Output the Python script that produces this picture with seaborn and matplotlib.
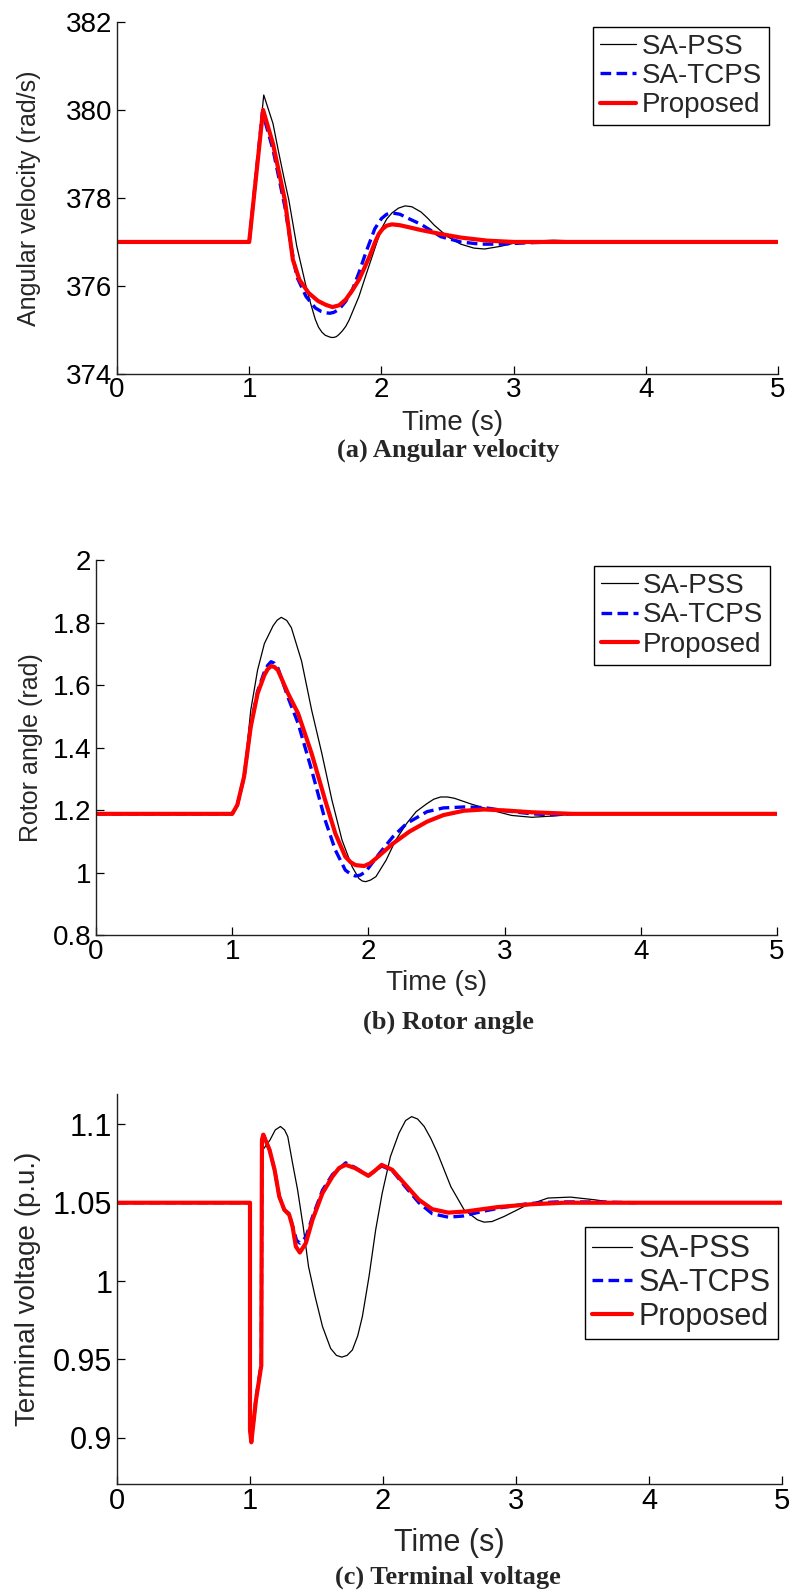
import numpy as np
import pandas as pd
import matplotlib
matplotlib.use('Agg')
import matplotlib.pyplot as plt
import seaborn as sns

# ---- (a) angular velocity (rad/s) ----
t_a_pss = [0, 1.0, 1.11, 1.18, 1.22, 1.26, 1.30, 1.36, 1.43, 1.465, 1.50, 1.525, 1.55, 1.575, 1.60,
           1.62, 1.64, 1.66, 1.68, 1.705, 1.73, 1.755, 1.78, 1.83, 1.88, 1.93, 2.0, 2.04, 2.08, 2.13,
           2.18, 2.23, 2.3, 2.35, 2.4, 2.5, 2.6, 2.7, 2.78, 2.9, 3.0, 3.15, 3.3, 3.5]
w_a_pss = [377, 377, 380.34, 379.69, 379.08, 378.5, 377.95, 376.9, 375.99, 375.6, 375.24, 375.06,
           374.95, 374.88, 374.85, 374.83, 374.83, 374.85, 374.9, 374.98, 375.08, 375.22, 375.4,
           375.76, 376.22, 376.67, 377.3, 377.52, 377.66, 377.77, 377.82, 377.8, 377.68, 377.54,
           377.38, 377.12, 376.95, 376.86, 376.84, 376.9, 376.97, 377.02, 377.04, 377.02]
t_a_tcps = [0, 1.0, 1.1, 1.18, 1.27, 1.32, 1.36, 1.43, 1.50, 1.545, 1.58, 1.61, 1.64, 1.68, 1.73, 1.78,
            1.83, 1.88, 1.95, 2.0, 2.04, 2.08, 2.14, 2.2, 2.3, 2.45, 2.6, 2.75, 2.9, 3.1, 3.3, 3.5]
w_a_tcps = [377, 377, 379.95, 379.1, 377.8, 376.85, 376.21, 375.76, 375.5, 375.42, 375.39, 375.38,
            375.4, 375.47, 375.65, 375.91, 376.3, 376.74, 377.3, 377.53, 377.63, 377.66, 377.63,
            377.54, 377.4, 377.12, 377.0, 376.95, 376.95, 376.98, 377.0, 377.0]
t_a_prop = [0, 1.0, 1.105, 1.18, 1.27, 1.33, 1.38, 1.45, 1.52, 1.58, 1.63, 1.68, 1.73, 1.78, 1.83, 1.87,
            1.91, 1.95, 1.98, 2.01, 2.04, 2.08, 2.14, 2.2, 2.3, 2.45, 2.6, 2.8, 3.0, 5.0]
w_a_prop = [377, 377, 380.0, 379.23, 377.95, 376.6, 376.14, 375.84, 375.66, 375.57, 375.52, 375.56,
            375.69, 375.9, 376.14, 376.4, 376.67, 376.98, 377.18, 377.3, 377.37, 377.4, 377.38,
            377.34, 377.27, 377.18, 377.1, 377.03, 377.0, 377.0]

# ---- (b) rotor angle (rad) ----
t_b_pss = [0, 1.0, 1.037, 1.087, 1.136, 1.186, 1.236, 1.3, 1.33, 1.36, 1.40, 1.434, 1.509, 1.583,
           1.658, 1.732, 1.806, 1.88, 1.93, 1.955, 1.98, 2.015, 2.055, 2.13, 2.2, 2.28, 2.35, 2.43,
           2.48, 2.53, 2.58, 2.63, 2.75, 2.9, 3.05, 3.2, 3.35, 3.5]
d_b_pss = [1.188, 1.188, 1.216, 1.31, 1.52, 1.648, 1.733, 1.79, 1.808, 1.817, 1.807, 1.784, 1.677,
           1.52, 1.381, 1.232, 1.104, 1.019, 0.981, 0.973, 0.971, 0.976, 0.987, 1.04, 1.104, 1.157,
           1.195, 1.221, 1.235, 1.242, 1.242, 1.238, 1.22, 1.2, 1.183, 1.177, 1.181, 1.187]
t_b_tcps = [0, 1.0, 1.037, 1.087, 1.136, 1.186, 1.236, 1.26, 1.285, 1.31, 1.335, 1.41, 1.484, 1.583,
            1.682, 1.757, 1.83, 1.87, 1.905, 1.94, 1.98, 2.08, 2.18, 2.28, 2.43, 2.55, 2.7, 2.85,
            3.0, 3.2, 3.35, 3.5]
d_b_tcps = [1.188, 1.188, 1.216, 1.307, 1.47, 1.58, 1.643, 1.663, 1.675, 1.67, 1.655, 1.56, 1.477,
            1.328, 1.168, 1.072, 1.008, 0.995, 0.989, 0.992, 1.003, 1.061, 1.115, 1.157, 1.195, 1.207,
            1.21, 1.208, 1.198, 1.188, 1.185, 1.188]
t_b_prop = [0, 1.0, 1.037, 1.087, 1.136, 1.186, 1.236, 1.26, 1.285, 1.31, 1.335, 1.41, 1.484, 1.583,
            1.682, 1.757, 1.83, 1.87, 1.905, 1.968, 2.01, 2.055, 2.18, 2.30, 2.43, 2.55, 2.7, 2.85,
            3.0, 3.2, 3.5, 5.0]
d_b_prop = [1.188, 1.188, 1.216, 1.307, 1.467, 1.573, 1.632, 1.651, 1.661, 1.658, 1.648, 1.573, 1.509,
            1.381, 1.232, 1.125, 1.051, 1.033, 1.024, 1.021, 1.029, 1.045, 1.093, 1.131, 1.163, 1.184,
            1.198, 1.202, 1.199, 1.193, 1.188, 1.188]

# ---- (c) terminal voltage (p.u.) ----
t_c_pss = [0, 1.0, 1.0, 1.01, 1.045, 1.085, 1.09, 1.15, 1.19, 1.229, 1.26, 1.284, 1.32, 1.358, 1.4,
           1.44, 1.49, 1.545, 1.606, 1.65, 1.69, 1.73, 1.77, 1.81, 1.845, 1.895, 1.945, 1.994, 2.056,
           2.12, 2.17, 2.215, 2.26, 2.31, 2.36, 2.41, 2.51, 2.61, 2.71, 2.76, 2.82, 2.91, 3.06, 3.24,
           3.41, 3.59, 3.75]
v_c_pss = [1.05, 1.05, 0.905, 0.898, 0.925, 0.946, 1.083, 1.09, 1.0965, 1.0987, 1.0965, 1.0923, 1.0753,
           1.0582, 1.0348, 1.0093, 0.99, 0.971, 0.957, 0.9525, 0.9514, 0.9525, 0.956, 0.965, 0.9773,
           1.0029, 1.0327, 1.0561, 1.0795, 1.0944, 1.1025, 1.105, 1.1035, 1.0987, 1.091, 1.0817,
           1.0603, 1.0455, 1.0391, 1.0376, 1.038, 1.0412, 1.0476, 1.053, 1.0536, 1.0519, 1.05]
t_c_tcps = [0, 1.0, 1.0, 1.01, 1.045, 1.085, 1.09, 1.1, 1.147, 1.185, 1.22, 1.258, 1.295, 1.32, 1.35,
            1.375, 1.42, 1.47, 1.545, 1.62, 1.72, 1.79, 1.89, 1.99, 2.07, 2.17, 2.27, 2.37, 2.49, 2.6,
            2.75, 2.9, 3.1, 3.3, 3.6, 3.9]
v_c_tcps = [1.05, 1.05, 0.905, 0.898, 0.925, 0.947, 1.09, 1.0935, 1.0838, 1.071, 1.054, 1.0455, 1.043,
            1.035, 1.026, 1.0242, 1.028, 1.041, 1.058, 1.068, 1.0755, 1.0725, 1.0672, 1.0735, 1.0705,
            1.06, 1.05, 1.043, 1.0408, 1.0415, 1.0445, 1.047, 1.0495, 1.0505, 1.0505, 1.05]
t_c_prop = [0, 1.0, 1.0, 1.01, 1.045, 1.085, 1.09, 1.1, 1.147, 1.185, 1.22, 1.258, 1.295, 1.32, 1.345,
            1.375, 1.42, 1.47, 1.545, 1.62, 1.67, 1.72, 1.79, 1.89, 1.94, 1.99, 2.07, 2.17, 2.27, 2.37,
            2.49, 2.62, 2.86, 3.11, 3.36, 5.0]
v_c_prop = [1.05, 1.05, 0.905, 0.897, 0.924, 0.946, 1.09, 1.0935, 1.0838, 1.071, 1.054, 1.0455, 1.0423,
            1.0348, 1.022, 1.0182, 1.0242, 1.0391, 1.0561, 1.0667, 1.0722, 1.0742, 1.0721, 1.0672,
            1.0705, 1.0742, 1.071, 1.0614, 1.0519, 1.0459, 1.0437, 1.0444, 1.0472, 1.049, 1.05, 1.05]

series_names = ['SA-PSS', 'SA-TCPS', 'Proposed']
x_ticks = [0, 1, 2, 3, 4, 5]
x_ticklabels = ['0', '1', '2', '3', '4', '5']
a_yticks = [374, 376, 378, 380, 382]
a_yticklabels = ['374', '376', '378', '380', '382']
b_yticks = [0.8, 1.0, 1.2, 1.4, 1.6, 1.8, 2.0]
b_yticklabels = ['0.8', '1', '1.2', '1.4', '1.6', '1.8', '2']
c_yticks = [0.9, 0.95, 1.0, 1.05, 1.1]
c_yticklabels = ['0.9', '0.95', '1', '1.05', '1.1']

sns.set_style('ticks')
plt.rcParams['font.family'] = ['Liberation Sans', 'DejaVu Sans']
plt.rcParams['xtick.direction'] = 'in'
plt.rcParams['ytick.direction'] = 'in'

styles = {
    'SA-PSS': dict(color='black', lw=0.9, linestyle='-'),
    'SA-TCPS': dict(color='#0000ff', lw=2.4, linestyle=(0, (3.2, 1.6))),
    'Proposed': dict(color='#ff0000', lw=3.0, linestyle='-'),
}

fig = plt.figure(figsize=(7.91, 15.9), dpi=100)

panels = [
    dict(rect=[0.1479, 0.7648, 0.8357, 0.2214], fs=20, xfs=20,
         data=[(t_a_pss, w_a_pss), (t_a_tcps, w_a_tcps), (t_a_prop, w_a_prop)],
         ylim=(374, 382), yticks=a_yticks, ylabels=a_yticklabels,
         ylabel='Angular velocity (rad/s)', ylab_x=-0.115, xlab_y=-0.102, xlab_x=0.507,
         leg=dict(loc='upper right', bbox_to_anchor=(0.986, 0.986)),
         caption='(a) Angular velocity', cap_y=1 - 450 / 1590),
    dict(rect=[0.1214, 0.4119, 0.8610, 0.2358], fs=20, xfs=20,
         data=[(t_b_pss, d_b_pss), (t_b_tcps, d_b_tcps), (t_b_prop, d_b_prop)],
         ylim=(0.8, 2.0), yticks=b_yticks, ylabels=b_yticklabels,
         ylabel='Rotor angle (rad)', ylab_x=-0.078, xlab_y=-0.092, xlab_x=0.50,
         leg=dict(loc='upper right', bbox_to_anchor=(0.99, 0.984)),
         caption='(b) Rotor angle', cap_y=1 - 1022 / 1590),
    dict(rect=[0.1479, 0.0667, 0.8407, 0.2453], fs=22, xfs=21,
         data=[(t_c_pss, v_c_pss), (t_c_tcps, v_c_tcps), (t_c_prop, v_c_prop)],
         ylim=(0.8704, 1.1195), yticks=c_yticks, ylabels=c_yticklabels,
         ylabel='Terminal voltage (p.u.)', ylab_x=-0.115, xlab_y=-0.112, xlab_x=0.50,
         leg=dict(loc='center right', bbox_to_anchor=(0.994, 0.515)),
         caption='(c) Terminal voltage', cap_y=1 - 1577 / 1590),
]

for p in panels:
    ax = fig.add_axes(p['rect'])
    for name, (t, v) in zip(series_names, p['data']):
        df = pd.DataFrame({'Time': t, 'Value': v})
        sns.lineplot(data=df, x='Time', y='Value', ax=ax, estimator=None, sort=False,
                     label=name, **styles[name])
    ax.set_xlim(0, 5)
    ax.set_ylim(*p['ylim'])
    ax.set_xticks(x_ticks)
    ax.set_xticklabels(x_ticklabels)
    ax.set_yticks(p['yticks'])
    ax.set_yticklabels(p['ylabels'])
    ax.tick_params(axis='both', length=6, width=0.9, colors='black')
    ax.tick_params(axis='x', pad=2.5, labelsize=p['xfs'])
    ax.tick_params(axis='y', pad=3.5, labelsize=p['fs'])
    sns.despine(ax=ax)
    for s in ['left', 'bottom']:
        ax.spines[s].set_color('#222222')
        ax.spines[s].set_linewidth(1.0)
    ax.set_xlabel('Time (s)', fontsize=p['fs'])
    ax.set_ylabel(p['ylabel'], fontsize=p['fs'] - 2)
    ax.xaxis.set_label_coords(p['xlab_x'], p['xlab_y'])
    ax.yaxis.set_label_coords(p['ylab_x'], 0.5)
    leg = ax.legend(fontsize=p['fs'], frameon=True, fancybox=False, framealpha=1,
                    edgecolor='black', borderaxespad=0, handlelength=1.3, handletextpad=0.2,
                    labelspacing=0.12, borderpad=0.25, **p['leg'])
    leg.get_frame().set_linewidth(1.0)
    fig.text(448 / 791, p['cap_y'], p['caption'], ha='center', va='center', fontsize=19,
             fontweight='bold', family=['Liberation Serif', 'DejaVu Serif'])

fig.savefig('out.png', dpi=100, facecolor='white')
